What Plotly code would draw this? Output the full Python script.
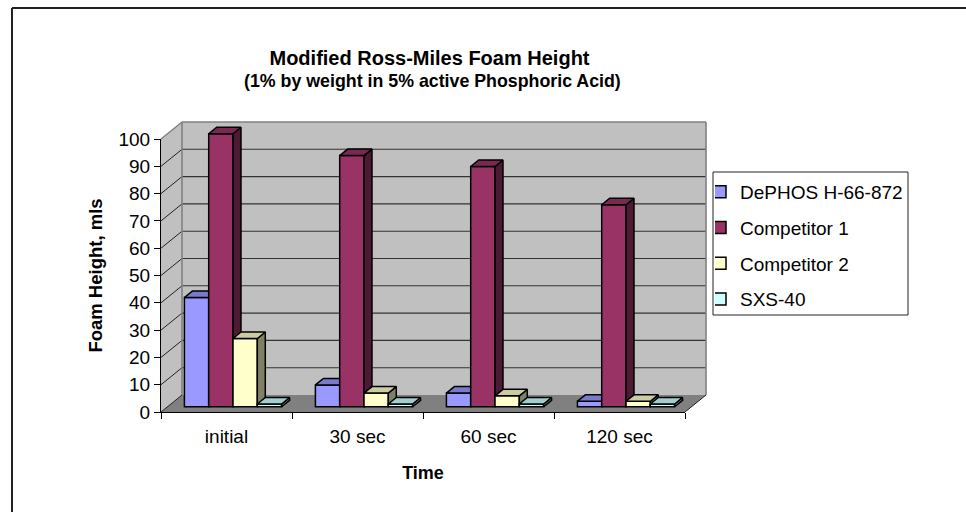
import plotly.graph_objects as go

categories = ["initial", "30 sec", "60 sec", "120 sec"]
series_names = ["DePHOS H-66-872", "Competitor 1", "Competitor 2", "SXS-40"]
dephos = [40, 8, 5, 2]
competitor1 = [100, 92, 88, 74]
competitor2 = [25, 5, 4, 2]
sxs40 = [1, 1, 1, 1]
y_ticks = list(range(0, 101, 10))

FRONT = ["#9999FF", "#993366", "#FFFFCC", "#CCFFFF"]
TOP = ["#7A7ACC", "#7A2952", "#CCCCA3", "#A3CCCC"]
SIDE = ["#4D4D80", "#4D1A33", "#808066", "#668080"]
FONT = "Liberation Sans"

W, H = 966, 512
DX, DY = 21.0, 17.0
L, B = 161, 412
FRONT_W, FRONT_H = 524.0, 273.0
R, T = L + FRONT_W + DX, B - FRONT_H - DY
NEAR, FAR = 0.31, 0.69
n = len(categories)
CAT_PX = FRONT_W / n
Y_PX = FRONT_H / 100.0
dx_u, dy_u = DX / CAT_PX, DY / Y_PX
BAR_W = 24.3 / CAT_PX
LW = 1.5


def px(x):
    return (x - L) / (R - L)


def py(y):
    return (B - y) / (B - T)


def cx(v):  # category units -> paper
    return v * CAT_PX / (R - L)


def vy(v):  # value units -> paper
    return v * Y_PX / (B - T)


values = [dephos, competitor1, competitor2, sxs40]
fig = go.Figure()

shapes = []


def poly(pts, fill):
    path = "M" + "L".join(f"{cx(a)},{vy(b)}" for a, b in pts) + "Z"
    shapes.append(dict(type="path", path=path, xref="paper", yref="paper", layer="below", fillcolor=fill,
                       line=dict(color=fill, width=0)))


def seg(a, b, color, width=1.0):
    shapes.append(dict(type="line", xref="paper", yref="paper", x0=cx(a[0]), y0=vy(a[1]), x1=cx(b[0]), y1=vy(b[1]),
                       layer="below", line=dict(color=color, width=width)))


# walls, floor and gridlines
poly([(dx_u, dy_u), (n + dx_u, dy_u), (n + dx_u, 100 + dy_u), (dx_u, 100 + dy_u)], "#C0C0C0")
poly([(0, 0), (dx_u, dy_u), (dx_u, 100 + dy_u), (0, 100)], "#C0C0C0")
poly([(0, 0), (n, 0), (n + dx_u, dy_u), (dx_u, dy_u)], "#808080")
for t in y_ticks[1:-1]:
    seg((0, t), (dx_u, t + dy_u), "#222222")
    seg((dx_u, t + dy_u), (n + dx_u, t + dy_u), "#333333", 1.1)
seg((0, 100), (dx_u, 100 + dy_u), "#808080", 1.4)
seg((dx_u, 100 + dy_u), (n + dx_u, 100 + dy_u), "#808080", 1.6)
seg((n + dx_u, 100 + dy_u), (n + dx_u, dy_u), "#808080", 1.6)
seg((dx_u, dy_u), (dx_u, 100 + dy_u), "#808080", 1.6)
seg((n, 0), (n + dx_u, dy_u), "#222222", 1.0)
seg((0, 0), (dx_u, dy_u), "#222222", 1.0)

# top and left rules of the chart frame, legend box
shapes.append(dict(type="line", xref="paper", yref="paper", x0=px(12), x1=px(W), y0=py(8), y1=py(8),
                   layer="below", line=dict(color="#222222", width=2)))
shapes.append(dict(type="line", xref="paper", yref="paper", x0=px(12), x1=px(12), y0=py(8), y1=py(H),
                   layer="below", line=dict(color="#222222", width=2)))
shapes.append(dict(type="rect", xref="paper", yref="paper", x0=px(713), x1=px(908), y0=py(315), y1=py(172),
                   layer="below", line=dict(color="#222222", width=1), fillcolor="#FFFFFF"))

# subplot that carries the visible axes
fig.add_trace(go.Scatter(x=[0], y=[0], mode="markers", marker=dict(opacity=0), showlegend=False,
                         hoverinfo="skip", xaxis="x", yaxis="y"))

# bars: each series has its own subplot so later bars paint over earlier ones
x_range = [0, n + dx_u]
y_range = [0, 100 + dy_u]
layout_axes = {}
for j, (name, vals) in enumerate(zip(series_names, values)):
    s = str(j + 2)
    xa, ya = "x" + s, "y" + s
    layout_axes["xaxis" + s] = dict(range=x_range, visible=False, domain=[0, 1], anchor=ya)
    layout_axes["yaxis" + s] = dict(range=y_range, visible=False, domain=[0, 1], anchor=xa)
    lefts = [i + 0.5 - 2 * BAR_W + j * BAR_W for i in range(n)]
    near_x, near_y = NEAR * dx_u, NEAR * dy_u
    far_x, far_y = FAR * dx_u, FAR * dy_u
    fig.add_trace(go.Bar(
        x=[l + near_x + BAR_W / 2 for l in lefts], y=vals, base=near_y, width=BAR_W, name=name,
        marker=dict(color=FRONT[j], line=dict(color="#000000", width=LW)),
        legendgroup=name, xaxis=xa, yaxis=ya, hoverinfo="name+y",
    ))
    sx, sy, tx, ty = [], [], [], []
    for l, v in zip(lefts, vals):
        r = l + BAR_W
        sx += [r + near_x, r + far_x, r + far_x, r + near_x, r + near_x, None]
        sy += [near_y, far_y, v + far_y, v + near_y, near_y, None]
        tx += [l + near_x, r + near_x, r + far_x, l + far_x, l + near_x, None]
        ty += [v + near_y, v + near_y, v + far_y, v + far_y, v + near_y, None]
    for xs, ys, col in ((sx, sy, SIDE[j]), (tx, ty, TOP[j])):
        fig.add_trace(go.Scatter(
            x=xs, y=ys, mode="lines", fill="toself", fillcolor=col,
            line=dict(color="#000000", width=LW), showlegend=False, hoverinfo="skip",
            legendgroup=name, xaxis=xa, yaxis=ya,
        ))

fig.update_layout(
    width=W, height=H,
    paper_bgcolor="#FFFFFF", plot_bgcolor="rgba(0,0,0,0)",
    margin=dict(l=L, r=W - R, t=T, b=H - B, pad=0, autoexpand=False),
    barmode="overlay",
    font=dict(family=FONT, color="#000000"),
    shapes=shapes,
    title=dict(text="<b>Modified Ross-Miles Foam Height</b>", font=dict(family=FONT, size=20, color="#000000"),
               x=429.5 / W, xanchor="center", y=1 - 58 / H, yanchor="middle"),
    annotations=[dict(text="<b>(1% by weight in 5% active Phosphoric Acid)</b>", xref="paper", yref="paper",
                      x=px(432.5), y=py(81), xanchor="center", yanchor="middle", showarrow=False,
                      font=dict(family=FONT, size=17.8, color="#000000"))],
    xaxis=dict(range=[0, n], domain=[0, FRONT_W / (R - L)], anchor="y",
               tickmode="array", tickvals=[i + 0.5 for i in range(n)], ticktext=categories,
               ticks="", showgrid=False, zeroline=False, showline=True, linecolor="#000000", linewidth=1.2,
               tickfont=dict(family=FONT, size=19), ticklabelstandoff=7,
               minor=dict(tickmode="array", tickvals=list(range(n + 1)), ticks="outside", ticklen=6,
                          tickcolor="#000000", tickwidth=1.2, showgrid=False),
               title=dict(text="<b>Time</b>", font=dict(family=FONT, size=18), standoff=20)),
    yaxis=dict(range=[0, 100], domain=[0, FRONT_H / (B - T)], anchor="x",
               tickmode="array", tickvals=y_ticks, ticks="outside", ticklen=6,
               tickcolor="#000000", tickwidth=1.2, showgrid=False, zeroline=False, showline=True,
               linecolor="#000000", linewidth=1.2,
               tickfont=dict(family=FONT, size=19),
               title=dict(text="<b>Foam Height, mls</b>", font=dict(family=FONT, size=18.5), standoff=10)),
    legend=dict(x=px(715), y=py(173), xanchor="left", yanchor="top", bgcolor="rgba(0,0,0,0)",
                borderwidth=0, font=dict(family=FONT, size=19),
                traceorder="grouped", tracegroupgap=8, indentation=-15),
    **layout_axes,
)
fig.write_html("out.html", config={"displayModeBar": False},
               post_script="document.body.style.margin='0';document.documentElement.style.overflow='hidden';")
